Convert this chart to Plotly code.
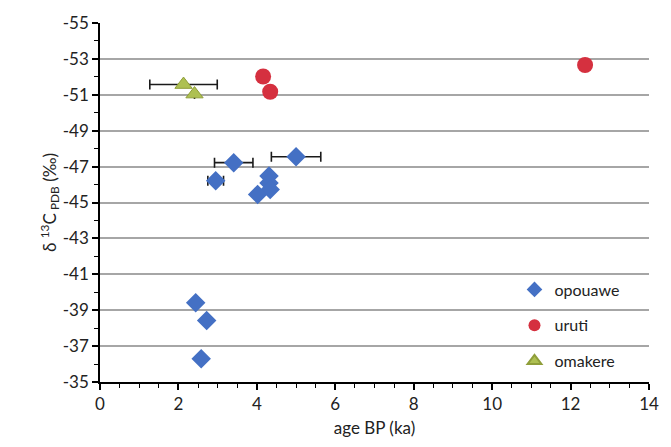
import plotly.graph_objects as go

# opouawe
op_age = [3.41, 5.00, 2.95, 4.31, 4.31, 4.34, 4.02, 2.44, 2.72, 2.58]
op_d13c = [-47.22, -47.55, -46.21, -46.48, -46.08, -45.72, -45.45, -39.42, -38.42, -36.30]
op_err = [0.49, 0.63, 0.20, 0, 0, 0, 0, 0, 0, 0]

# uruti
ur_age = [4.16, 4.34, 12.37]
ur_d13c = [-52.02, -51.17, -52.66]

# omakere
om_age = [2.13, 2.41]
om_d13c = [-51.57, -51.04]
om_err = [0.86, 0]

y_ticks = [-55, -53, -51, -49, -47, -45, -43, -41, -39, -37, -35]
y_labels = ["-55", "-53", "-51", "-49", "-47", "-45", "-43", "-41", "-39", "-37", "-35"]

font = "Lato"

fig = go.Figure()
fig.add_trace(go.Scatter(
    x=op_age, y=op_d13c, mode="markers", name="opouawe", legendgroup="a",
    marker=dict(symbol="diamond", size=15, color="#4470C4"),
    error_x=dict(type="data", array=op_err, visible=True, color="#1a1a1a", thickness=1.6, width=5),
))
fig.add_trace(go.Scatter(
    x=ur_age, y=ur_d13c, mode="markers", name="uruti", legendgroup="b",
    marker=dict(symbol="circle", size=16, color="#D5303F"),
))
fig.add_trace(go.Scatter(
    x=om_age, y=om_d13c, mode="markers", name="omakere", legendgroup="c",
    marker=dict(symbol="triangle-up", size=15, color="#AEC052",
                line=dict(color="#8F9E3A", width=1)),
    error_x=dict(type="data", array=om_err, visible=True, color="#1a1a1a", thickness=1.6, width=5),
))

fig.update_layout(
    width=671, height=447,
    margin=dict(l=100, r=19, t=18, b=62),
    paper_bgcolor="white", plot_bgcolor="white",
    font=dict(family=font, size=17, color="#222"),
    legend=dict(x=0.755, y=0.305, xanchor="left", yanchor="top",
                bgcolor="rgba(0,0,0,0)", font=dict(size=16, color="#222"),
                tracegroupgap=12, itemsizing="constant", itemwidth=30),
    showlegend=True,
)
fig.update_xaxes(
    range=[0, 14], dtick=2, tick0=0,
    showline=True, linecolor="black", linewidth=1.5,
    ticks="outside", ticklen=6, tickcolor="black", tickwidth=1.5,
    minor=dict(dtick=0.5, ticks="outside", ticklen=4, tickcolor="black", tickwidth=1.2),
    showgrid=False, zeroline=False,
    title=dict(text="age BP (ka)", font=dict(size=17), standoff=9),
    tickfont=dict(size=17),
)
fig.update_yaxes(
    range=[-35, -55], tickvals=y_ticks, ticktext=y_labels,
    showline=True, linecolor="black", linewidth=1.5,
    ticks="outside", ticklen=6, tickcolor="black", tickwidth=1.5,
    minor=dict(dtick=1, tick0=-55, ticks="outside", ticklen=4, tickcolor="black", tickwidth=1.2, showgrid=False),
    showgrid=True, gridcolor="#A6A6A6", gridwidth=1.5, zeroline=False,
    title=dict(text="δ <sup>13</sup>C<sub> PDB</sub> (‰)", font=dict(size=17), standoff=2),
    tickfont=dict(size=17),
)

fig.write_html(
    "out.html",
    config={"displayModeBar": False},
    post_script="document.body.style.margin='0';document.body.style.overflow='hidden';",
)
